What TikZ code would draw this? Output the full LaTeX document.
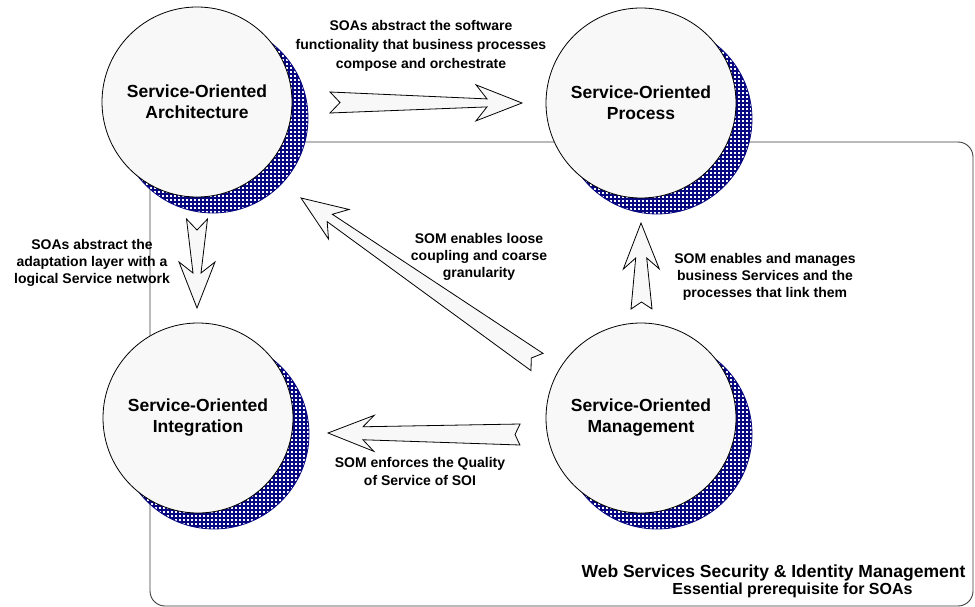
\documentclass[tikz,border=0pt]{standalone}
\usepackage{fontspec}
\setmainfont{Liberation Sans}
\usetikzlibrary{calc}

\definecolor{navyblue}{RGB}{8,8,128}
\definecolor{paper}{RGB}{248,248,248}
\definecolor{framegray}{RGB}{60,60,60}

\pgfdeclarelayer{framelayer}
\pgfdeclarelayer{shadelayer}
\pgfsetlayers{framelayer,shadelayer,main}

% Block arrow with a notched tail and barbed head:
% #1 tail point, #2 tip, #3 notch depth, #4 shaft half-width next to the head
\newcommand\fatarrow[4]{%
  \draw[blockarrow]
    ($(#1)!10.5pt!90:(#2)$) --
    ($(#1)!#3!(#2)$) --
    ($(#1)!10.5pt!-90:(#2)$) --
    ($(#2)!35pt!(#1)!#4!90:(#1)$) --
    ($(#2)!46pt!(#1)!18pt!90:(#1)$) --
    (#2) --
    ($(#2)!46pt!(#1)!18pt!-90:(#1)$) --
    ($(#2)!35pt!(#1)!#4!-90:(#1)$) -- cycle;
}

\begin{document}
\begin{tikzpicture}[x=1pt,y=-1pt,
  circ/.style={circle, draw=black, line width=0.8pt, fill=paper,
    minimum size=190pt, inner sep=0pt, align=center,
    font=\bfseries\fontsize{17.5}{21}\selectfont},
  lbl/.style={align=center, inner sep=0pt, anchor=base},
  blockarrow/.style={draw=black, line width=0.8pt, fill=paper, line join=miter},
  shadowline/.style={draw=navyblue, line width=2.7pt},
  boxframe/.style={draw=framegray, line width=0.9pt, rounded corners=15pt}]

\useasboundingbox (0,0) rectangle (975,607);

% the four service circles
\node[circ] (soa) at (197,102) {Service-Oriented\\Architecture};
\node[circ] (sop) at (641,103) {Service-Oriented\\Process};
\node[circ] (soi) at (198,418) {Service-Oriented\\Integration};
\node[circ] (som) at (641,418) {Service-Oriented\\Management};

% hatched drop shadows behind the circles
\begin{pgfonlayer}{shadelayer}
\foreach \c in {soa,sop,soi,som}{
  \begin{scope}[shift={($(\c)+(16,16)$)}]
    \clip (0,0) circle (95pt);
    \fill[white] (-96,-96) rectangle (96,96);
    \foreach \k in {-96,-92,...,96}{
      \draw[shadowline] (\k,-96) -- (\k,96);
      \draw[shadowline] (-96,\k) -- (96,\k);
    }
  \end{scope}
  \draw[navyblue, line width=0.8pt] ($(\c)+(16,16)$) circle (95pt);
}
\end{pgfonlayer}

% security frame
\begin{pgfonlayer}{framelayer}
\draw[boxframe] (150,142) rectangle (973,606);
\end{pgfonlayer}

% arrow end points
\coordinate (a1t) at ($(soa)+(133,0.5)$);
\coordinate (a1h) at ($(sop)+(-119,0)$);
\coordinate (a2t) at ($(soa)+(0,117)$);
\coordinate (a2h) at ($(soi)+(-1,-110)$);
\coordinate (a3t) at ($(som)+(-104,-56)$);
\coordinate (a3h) at ($(soa)+(104,96)$);
\coordinate (a4t) at ($(som)+(0.5,-109)$);
\coordinate (a4h) at ($(sop)+(0,120)$);
\coordinate (a5t) at ($(som)+(-121,16.5)$);
\coordinate (a5h) at ($(soi)+(130,15)$);

\fatarrow{a1t}{a1h}{10pt}{4pt}
\fatarrow{a2t}{a2h}{11pt}{4pt}
\fatarrow{a3t}{a3h}{7pt}{4.5pt}
\fatarrow{a4t}{a4h}{7pt}{5.5pt}
\fatarrow{a5t}{a5h}{5pt}{6.5pt}

% arrow captions (placed by the baseline of their last line)
\node[lbl, font=\bfseries\fontsize{14}{19}\selectfont] (l1) at (421,69)
  {SOAs abstract the software\\functionality that business processes\\compose and orchestrate};
\node[lbl, font=\bfseries\fontsize{14}{17}\selectfont] (l2) at (92,283)
  {SOAs abstract the\\adaptation layer with a\\logical Service network};
\node[lbl, font=\bfseries\fontsize{14}{17}\selectfont] (l3) at (479,277)
  {SOM enables loose\\coupling and coarse\\granularity};
\node[lbl, font=\bfseries\fontsize{14}{17}\selectfont] (l4) at (765,297)
  {SOM enables and manages\\business Services and the\\processes that link them};
\node[lbl, font=\bfseries\fontsize{14}{18}\selectfont] (l5) at (420,485)
  {SOM enforces the Quality\\of Service of SOI};

% frame caption
\node[lbl, font=\bfseries\fontsize{17.5}{21}\selectfont] (w1)
  at (773.5,577) {Web Services Security \& Identity Management};
\node[lbl, font=\bfseries\fontsize{16}{19}\selectfont] (w2)
  at (792.5,594) {Essential prerequisite for SOAs};

\end{tikzpicture}
\end{document}
